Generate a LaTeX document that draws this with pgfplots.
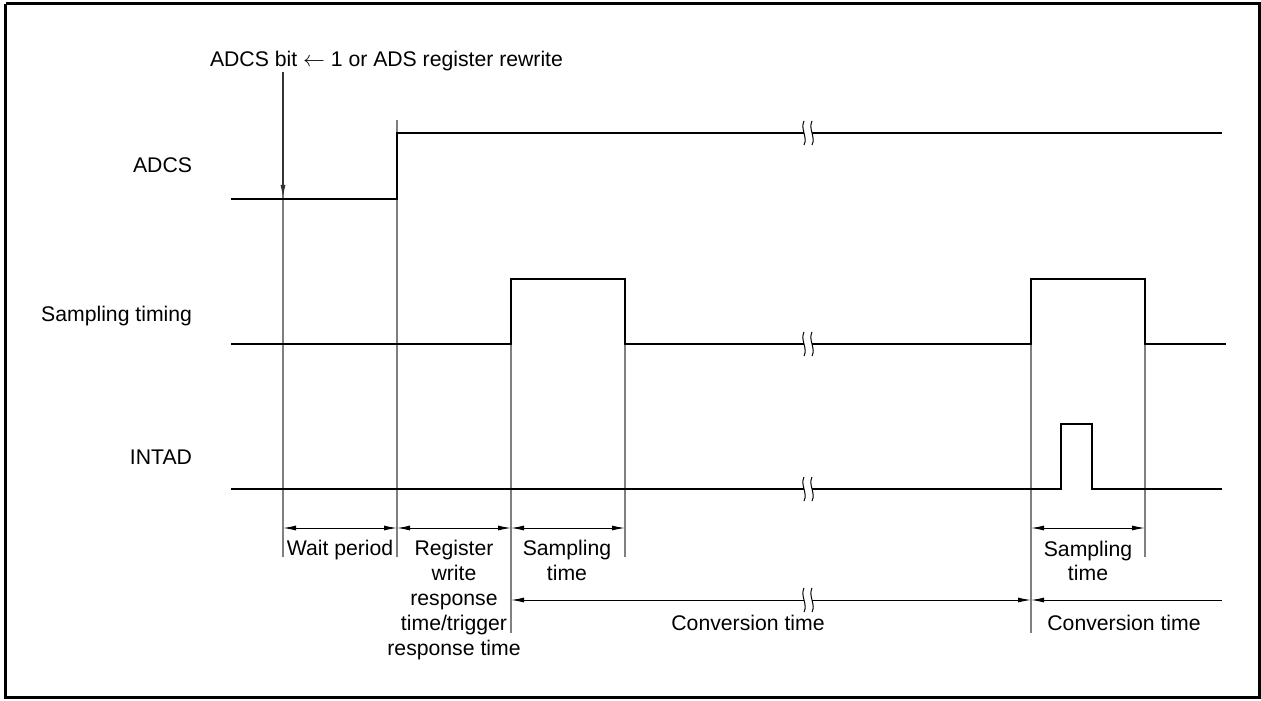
\documentclass[border=0pt]{standalone}
\usepackage{pgfplots}
\pgfplotsset{compat=1.18}
\usepackage{fontspec}
\setmainfont{Liberation Sans}
\usetikzlibrary{arrows.meta}
\definecolor{guide}{gray}{0.5}
\tikzset{lbl/.style={font=\fontsize{10.6}{12.5}\selectfont, inner sep=0pt, outer sep=0pt}}
\newcommand{\brk}[2]{%
  \fill[white] (axis cs:#1-3,#2-3) rectangle (axis cs:#1+5,#2+3);
  \draw[line width=0.5pt] (axis cs:#1-3,#2-12) .. controls (axis cs:#1-7,#2-4) and (axis cs:#1+1,#2+4) .. (axis cs:#1-3,#2+12);
  \draw[line width=0.5pt] (axis cs:#1+5,#2-12) .. controls (axis cs:#1+1,#2-4) and (axis cs:#1+9,#2+4) .. (axis cs:#1+5,#2+12);
}
\begin{document}
\begin{tikzpicture}
\begin{axis}[
  width=630.5pt, height=350pt, scale only axis,
  xmin=0, xmax=1261, ymin=0, ymax=700, y dir=reverse,
  hide axis, clip=false,
]
% extent
\addplot[draw=none] coordinates {(0,0) (1261,700)};
% frame
\addplot[line width=1.5pt, black] coordinates {(5.5,4) (1259,4) (1259,697) (5.5,697) (5.5,4)};
% guide lines (grey)
\addplot[guide, line width=0.8pt] coordinates {(283,72) (283,557)};
\addplot[guide, line width=0.8pt] coordinates {(397,120) (397,557)};
\addplot[guide, line width=0.8pt] coordinates {(511,279) (511,633)};
\addplot[guide, line width=0.8pt] coordinates {(625,279) (625,557)};
\addplot[guide, line width=0.8pt] coordinates {(1031,279) (1031,633)};
\addplot[guide, line width=0.8pt] coordinates {(1145,279) (1145,557)};
% trigger arrow
\addplot[black!80, line width=0.6pt, -{Latex[length=6.5pt,width=2.5pt]}] coordinates {(283,72) (283,198)};
% signals
\addplot[black, line width=1.45pt] coordinates {(231,199) (397,199) (397,133) (1222,133)};
\addplot[black, line width=1.45pt] coordinates {(231,344) (511,344) (511,279) (625,279) (625,344) (1031,344) (1031,279) (1145,279) (1145,344) (1226,344)};
\addplot[black, line width=1.45pt] coordinates {(231,489) (1061,489) (1061,424) (1092,424) (1092,489) (1222,489)};
% dimension arrows
\addplot[black, line width=0.5pt, {Latex[length=6.5pt,width=2.5pt]}-{Latex[length=6.5pt,width=2.5pt]}] coordinates {(283,528) (397,528)};
\addplot[black, line width=0.5pt, {Latex[length=6.5pt,width=2.5pt]}-{Latex[length=6.5pt,width=2.5pt]}] coordinates {(397,528) (511,528)};
\addplot[black, line width=0.5pt, {Latex[length=6.5pt,width=2.5pt]}-{Latex[length=6.5pt,width=2.5pt]}] coordinates {(511,528) (625,528)};
\addplot[black, line width=0.5pt, {Latex[length=6.5pt,width=2.5pt]}-{Latex[length=6.5pt,width=2.5pt]}] coordinates {(1031,528) (1145,528)};
\addplot[black, line width=0.5pt, {Latex[length=6.5pt,width=2.5pt]}-{Latex[length=6.5pt,width=2.5pt]}] coordinates {(511,600) (1031,600)};
\addplot[black, line width=0.5pt, {Latex[length=6.5pt,width=2.5pt]}-] coordinates {(1031,600) (1222,600)};
% breaks
\brk{807}{133}
\brk{807}{344}
\brk{807}{489}
\brk{807}{600}
% labels
\node[lbl, anchor=base west] at (axis cs:210,67) {ADCS bit $\leftarrow$ 1 or ADS register rewrite};
\node[lbl, anchor=base east] at (axis cs:192,173) {ADCS};
\node[lbl, anchor=base east] at (axis cs:192,321) {Sampling timing};
\node[lbl, anchor=base east] at (axis cs:192,464) {INTAD};
\node[lbl, anchor=base] at (axis cs:340,555) {Wait period};
\node[lbl, anchor=base] at (axis cs:454,555) {Register};
\node[lbl, anchor=base] at (axis cs:454,580) {write};
\node[lbl, anchor=base] at (axis cs:454,605) {response};
\node[lbl, anchor=base] at (axis cs:454,630) {time/trigger};
\node[lbl, anchor=base] at (axis cs:454,655) {response time};
\node[lbl, anchor=base] at (axis cs:567,555) {Sampling};
\node[lbl, anchor=base] at (axis cs:567,580) {time};
\node[lbl, anchor=base] at (axis cs:1088,556) {Sampling};
\node[lbl, anchor=base] at (axis cs:1088,580) {time};
\node[lbl, anchor=base] at (axis cs:748,630) {Conversion time};
\node[lbl, anchor=base] at (axis cs:1124,630) {Conversion time};
\end{axis}
\end{tikzpicture}
\end{document}
